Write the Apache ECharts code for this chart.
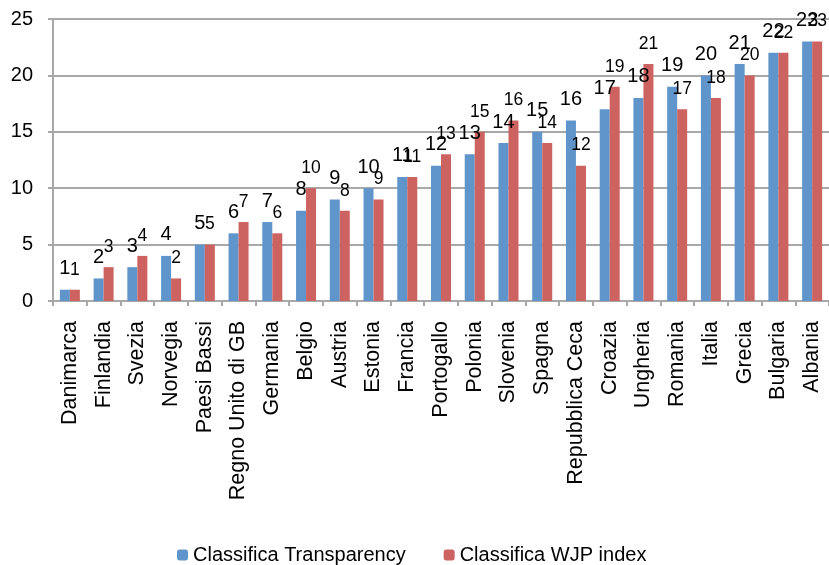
<!DOCTYPE html>
<html>
<head>
<meta charset="utf-8">
<script src="https://cdn.jsdelivr.net/npm/echarts@6/dist/echarts.min.js"></script>
<style>
  html, body { margin: 0; padding: 0; background: #fff; }
  #main { width: 829px; height: 565px; }
</style>
</head>
<body>
<div id="main"></div>
<script>
// paesi
var paesi = ["Danimarca", "Finlandia", "Svezia", "Norvegia", "Paesi Bassi",
  "Regno Unito di GB", "Germania", "Belgio", "Austria", "Estonia", "Francia",
  "Portogallo", "Polonia", "Slovenia", "Spagna", "Repubblica Ceca", "Croazia",
  "Ungheria", "Romania", "Italia", "Grecia", "Bulgaria", "Albania"];
var transparency = [1, 2, 3, 4, 5, 6, 7, 8, 9, 10, 11, 12, 13, 14, 15, 16, 17, 18, 19, 20, 21, 22, 23];
var wjp = [1, 3, 4, 2, 5, 7, 6, 10, 8, 9, 11, 13, 15, 16, 14, 12, 19, 21, 17, 18, 20, 22, 23];
var yTicks = [0, 5, 10, 15, 20, 25];

var font = "Liberation Sans, Arial, sans-serif";
var grigio = "#A8A8A8";

var chart = echarts.init(document.getElementById("main"));
chart.setOption({
  animation: false,
  textStyle: { fontFamily: font },
  grid: { left: 53, right: 0, top: 19, bottom: 264 },
  legend: {
    top: 540,
    left: 172,
    itemWidth: 11,
    itemHeight: 11,
    itemGap: 38,
    textStyle: { fontSize: 20, color: "#000", fontFamily: font },
    data: ["Classifica Transparency", "Classifica WJP index"]
  },
  xAxis: {
    type: "category",
    data: paesi,
    axisLine: { lineStyle: { color: grigio, width: 2 } },
    axisTick: { show: true, length: 5, lineStyle: { color: grigio, width: 2 } },
    axisLabel: {
      interval: 0,
      rotate: 90,
      margin: 20,
      fontSize: 21.5,
      color: "#000",
      fontFamily: font
    }
  },
  yAxis: {
    type: "value",
    min: yTicks[0],
    max: yTicks[yTicks.length - 1],
    interval: 5,
    axisLine: { show: true, lineStyle: { color: grigio, width: 2 } },
    axisTick: { show: true, length: 5, lineStyle: { color: grigio, width: 2 } },
    splitLine: { lineStyle: { color: grigio, width: 2 } },
    axisLabel: { margin: 20, fontSize: 20, color: "#000", fontFamily: font }
  },
  series: [
    {
      name: "Classifica Transparency",
      type: "bar",
      data: transparency,
      barWidth: 10,
      barGap: "0%",
      itemStyle: { color: "#6095CB" },
      label: {
        show: true,
        position: "top",
        distance: 11,
        fontSize: 20,
        color: "#000",
        fontFamily: font
      }
    },
    {
      name: "Classifica WJP index",
      type: "bar",
      data: wjp,
      barWidth: 10,
      itemStyle: { color: "#CD6360" },
      label: {
        show: true,
        position: "top",
        distance: 11,
        fontSize: 17.5,
        color: "#000",
        fontFamily: font
      }
    }
  ]
});
</script>
</body>
</html>
